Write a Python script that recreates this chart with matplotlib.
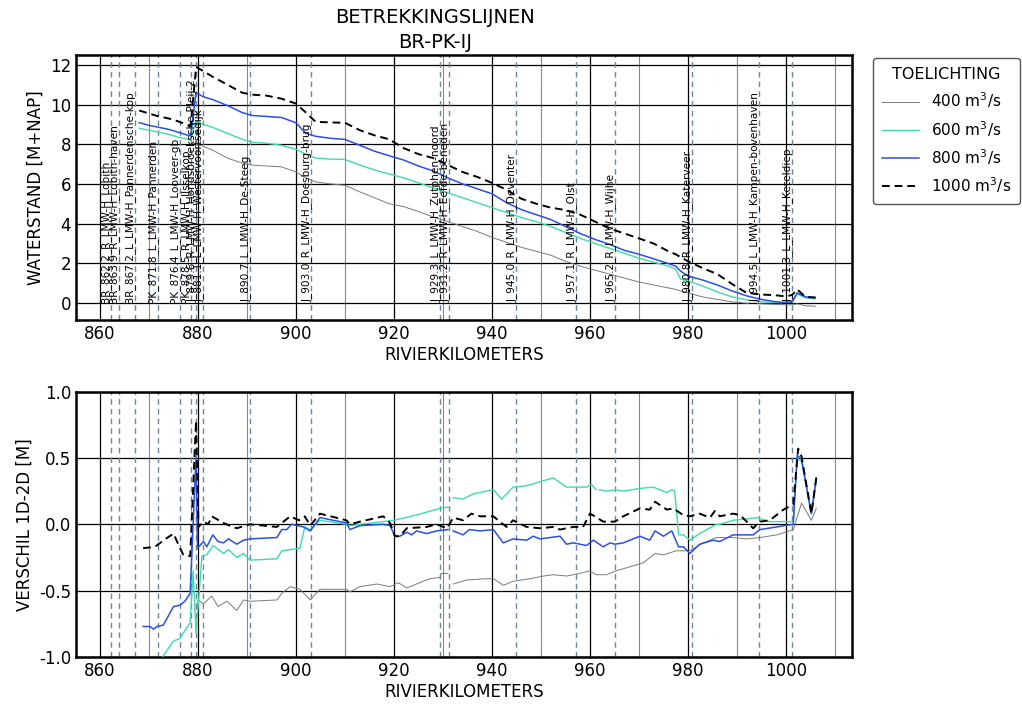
import numpy as np
import matplotlib
matplotlib.use("Agg")
import matplotlib.pyplot as plt

plt.rcParams['font.family'] = ['DejaVu Sans']

# ---- waterstand (bovenste grafiek) ----
km_top = [868, 870, 872, 874, 876, 878, 878.5, 879.6, 881, 883, 886, 889, 891, 894, 897,
          900, 902, 904, 907, 910, 913, 916, 919, 922, 925, 928, 931, 934, 937, 940,
          943, 946, 949, 952, 955, 958, 961, 964, 967, 970, 973, 976, 977.5, 978.5, 980,
          983, 986, 989, 992, 995, 998, 1000, 1001.3, 1002.3, 1004, 1006]
ws_1000 = [9.7, 9.55, 9.4, 9.3, 9.15, 8.95, 8.9, 11.9, 11.7, 11.4, 11.0, 10.6, 10.5, 10.45, 10.3,
           10.05, 9.6, 9.13, 9.1, 9.08, 8.71, 8.45, 8.25, 7.8, 7.5, 7.3, 6.95, 6.6, 6.35, 6.05,
           5.7, 5.25, 5.0, 4.8, 4.68, 4.45, 4.1, 3.75, 3.5, 3.25, 2.99, 2.6, 2.45, 2.3, 2.1,
           1.75, 1.45, 0.95, 0.5, 0.42, 0.38, 0.32, 0.4, 0.68, 0.3, 0.26]
ws_800 = [9.09, 8.95, 8.85, 8.75, 8.6, 8.45, 8.42, 10.6, 10.4, 10.25, 9.95, 9.6, 9.45, 9.4, 9.35,
          9.08, 8.55, 8.4, 8.3, 8.24, 7.95, 7.65, 7.42, 7.2, 6.9, 6.65, 6.3, 6.0, 5.75, 5.5,
          5.05, 4.7, 4.45, 4.2, 3.85, 3.5, 3.2, 2.95, 2.65, 2.45, 2.22, 1.98, 1.85, 1.6, 1.35,
          1.15, 0.9, 0.6, 0.35, 0.17, 0.05, 0.02, 0.05, 0.5, 0.3, 0.28]
ws_600 = [8.81, 8.7, 8.6, 8.5, 8.35, 8.25, 8.22, 9.2, 9.0, 8.85, 8.55, 8.25, 8.1, 8.05, 7.95,
          7.74, 7.5, 7.3, 7.25, 7.23, 6.95, 6.7, 6.5, 6.3, 6.05, 5.8, 5.55, 5.3, 5.05, 4.8,
          4.55, 4.3, 4.1, 3.85, 3.55, 3.25, 3.0, 2.75, 2.5, 2.25, 2.05, 1.85, 1.7, 1.2, 1.1,
          0.85, 0.55, 0.3, 0.15, 0.05, 0.02, 0.0, 0.05, 0.45, 0.25, 0.22]
ws_400 = [np.nan, np.nan, np.nan, np.nan, np.nan, np.nan, np.nan, 8.0, 7.9, 7.7, 7.3, 7.05, 6.95, 6.9, 6.86,
          6.6, 6.3, 6.1, 6.0, 5.93, 5.6, 5.3, 5.0, 4.85, 4.6, 4.33, 4.1, 3.85, 3.6, 3.3,
          3.05, 2.8, 2.6, 2.4, 2.1, 1.85, 1.65, 1.45, 1.25, 1.05, 0.9, 0.75, 0.68, 0.6, 0.5,
          0.3, 0.17, 0.05, -0.02, -0.05, -0.08, -0.1, -0.1, -0.05, -0.15, -0.17]

# ---- verschil 1D-2D (onderste grafiek) ----
km_d1000 = [868.8, 871.2, 873, 875, 876.2, 877, 878.4, 879.6, 880.1, 881.1, 882.1, 882.8, 885.2, 886.4,
            887.9, 890.6, 896.1, 898.8, 900.6, 901.8, 902.9, 904.9, 910.3, 911, 913.1, 917.8, 919.2,
            920.2, 921.2, 922.6, 926.7, 928.7, 930.8, 932.1, 934.1, 935.8, 937.6, 940.3, 941.6, 943,
            944.3, 947.1, 949.8, 952.5, 953.9, 955.2, 956.6, 958.6, 960, 961, 962.7, 965.1, 966.8,
            970.2, 972.2, 973.3, 975.7, 977, 979, 980.4, 982.4, 984.5, 985.5, 986.5, 989.2, 990.6,
            992, 993.3, 994.7, 996.7, 999.5, 1001.5, 1002.5, 1003.2, 1005.2, 1006.2]
d_1000 = [-0.18, -0.17, -0.12, -0.07, -0.17, -0.23, -0.24, 0.78, -0.02, 0.02, 0.0, 0.06, 0.01, -0.01,
          -0.03, 0.0, -0.02, 0.06, 0.03, 0.06, -0.01, 0.08, 0.03, 0.0, 0.02, 0.06, 0.01,
          -0.09, -0.09, -0.03, -0.02, 0.0, -0.03, 0.05, 0.03, 0.08, 0.06, 0.06, 0.02, -0.02,
          0.03, -0.02, -0.03, -0.02, -0.04, -0.03, -0.02, -0.02, 0.08, 0.06, 0.02, 0.02, 0.06,
          0.12, 0.11, 0.17, 0.11, 0.12, 0.07, 0.06, 0.08, 0.05, 0.1, 0.06, 0.08, 0.07,
          0.02, -0.03, 0.02, 0.03, 0.11, 0.15, 0.57, 0.51, 0.08, 0.35]

km_d800 = [868.8, 870.2, 870.9, 871.6, 872.9, 875, 876.3, 877.3, 878.4, 879.6, 879.9, 881.1, 881.8, 883,
           884.1, 885.2, 886.2, 887.9, 889.3, 890.6, 896.1, 897.1, 898.1, 899.1, 901.5, 902.9, 904.9,
           910.3, 911, 913.1, 917.8, 919.2, 920.2, 921.2, 922.6, 923.6, 924.6, 926.7, 928.7, 931,
           931.5, 932.1, 934.1, 935.4, 937.6, 940.3, 942.3, 944.3, 947.1, 948.4, 949.8, 953.9, 955.2,
           956.6, 959.3, 960.7, 962.7, 964.1, 965.1, 966.8, 970.2, 972.2, 973.3, 975, 976.7, 978.1,
           979.1, 980.4, 982.4, 985.2, 986.5, 989.2, 993.3, 994.7, 998.1, 1001.5, 1002.3, 1003.2,
           1005.2, 1006.2]
d_800 = [-0.77, -0.77, -0.79, -0.77, -0.76, -0.62, -0.61, -0.58, -0.52, 0.51, -0.18, -0.13, -0.17, -0.08,
         -0.13, -0.14, -0.11, -0.15, -0.12, -0.11, -0.1, -0.04, -0.04, 0.0, -0.02, -0.05, 0.05,
         0.01, -0.04, -0.01, 0.0, -0.01, -0.09, -0.09, -0.06, -0.08, -0.05, -0.07, -0.05, -0.04,
         np.nan, -0.05, -0.08, -0.04, -0.05, -0.04, -0.14, -0.11, -0.12, -0.09, -0.11, -0.09, -0.15,
         -0.14, -0.16, -0.12, -0.17, -0.14, -0.15, -0.14, -0.09, -0.12, -0.05, -0.09, -0.05, -0.17,
         -0.17, -0.22, -0.15, -0.12, -0.13, -0.08, -0.08, -0.04, -0.02, 0.0, 0.52, 0.49,
         0.08, 0.35]

km_d600 = [871, 872.9, 875, 876.3, 878.4, 879.0, 879.6, 880.8, 881.8, 883.1, 885.2, 886.2, 887.9,
           889.3, 890.6, 896.1, 897.1, 900.8, 901.8, 902.9, 904.9, 910.3, 911, 917.8, 919.9, 924.6,
           929.4, 931, 931.5, 932.1, 934.1, 936.2, 940.3, 942, 944.3, 947.1, 949.8, 952.5, 955.2,
           956.6, 959.3, 960.3, 961.3, 961.6, 962, 963.4, 965.4, 966.8, 970.2, 972.9, 975.7, 976.7,
           977.3, 978.1, 979.1, 980.4, 982.4, 985.8, 986.5, 989.2, 992, 994, 996.7, 1001.5, 1002.3,
           1003.2, 1005.2, 1006.2]
d_600 = [-1.15, -0.99, -0.88, -0.86, -0.74, -0.35, -0.82, -0.24, -0.23, -0.16, -0.22, -0.19, -0.25,
         -0.22, -0.27, -0.26, -0.2, -0.18, -0.02, -0.04, 0.03, 0.0, -0.01, 0.02, 0.03, 0.07,
         0.12, 0.13, np.nan, 0.2, 0.19, 0.23, 0.26, 0.19, 0.28, 0.29, 0.32, 0.35, 0.28,
         0.28, 0.28, 0.3, 0.26, np.nan, 0.26, 0.25, 0.26, 0.25, 0.27, 0.28, 0.24, 0.26,
         0.25, -0.08, -0.08, -0.12, -0.07, 0.0, 0.0, 0.03, 0.04, 0.05, 0.02, 0.02, 0.5,
         0.47, 0.08, 0.33]

km_d400 = [879.7, 880.1, 881.1, 882.8, 884.1, 885.9, 887.9, 889.3, 890.6, 896.1, 897.1, 898.8, 900.8,
           902.9, 904.9, 910.3, 911, 913, 916.5, 919.2, 920.9, 922.6, 924.6, 927.3, 929.4, 929.6,
           931, 931.5, 932.1, 934.8, 938.9, 940.3, 942.3, 944.3, 947.8, 950.5, 952.5, 955.2, 958,
           960, 961.3, 962, 963.4, 965.4, 968.2, 970.9, 973.3, 975, 977.6, 980.4, 983.1, 985.8,
           989.2, 992, 994.7, 998.1, 1001.5, 1003.2, 1005.2, 1006.2]
d_400 = [-0.64, -0.57, -0.6, -0.54, -0.62, -0.58, -0.65, -0.57, -0.58, -0.57, -0.52, -0.47, -0.49,
         -0.57, -0.49, -0.49, -0.51, -0.47, -0.45, -0.47, -0.44, -0.48, -0.45, -0.41, -0.4, -0.37,
         -0.37, np.nan, -0.45, -0.42, -0.41, -0.41, -0.46, -0.43, -0.41, -0.39, -0.38, -0.39, -0.37,
         -0.35, -0.38, -0.38, -0.38, -0.35, -0.32, -0.29, -0.22, -0.23, -0.2, -0.2, -0.14, -0.1,
         -0.1, -0.11, -0.1, -0.08, -0.04, 0.16, 0.03, 0.12]

# ---- meetlocaties ----
loc_km = [862.2, 863.9, 867.2, 871.8, 876.4, 878.5, 879.6, 881.1, 890.7, 903.0, 929.3, 931.2,
          945.0, 957.1, 965.2, 980.8, 994.5, 1001.3]
loc_names = ["BR_862.2_R_LMW-H_Lobith", "BR_863.9_R_LMW-H_Lobith-haven",
             "BR_867.2_L_LMW-H_Pannerdensche-kop", "PK_871.8_L_LMW-H_Pannerden",
             "PK_876.4_L_LMW-H_Looveer-gb", "PK_878.5_R_LMW-H_IJsselkop",
             "IJ_879.6_R_LMW-H_Hondsbroeksche-Pleij-2", "IJ_881.1_L_LMW-H_Westervoortsedijk",
             "IJ_890.7_L_LMW-H_De-Steeg", "IJ_903.0_R_LMW-H_Doesburg-brug",
             "IJ_929.3_L_LMW-H_Zutphen-noord", "IJ_931.2_R_LMW-H_Eefde-beneden",
             "IJ_945.0_R_LMW-H_Deventer", "IJ_957.1_R_LMW-H_Olst", "IJ_965.2_R_LMW-H_Wijhe",
             "IJ_980.8_R_LMW-H_Katerveer", "IJ_994.5_L_LMW-H_Kampen-bovenhaven",
             "IJ_1001.3_L_LMW-H_Keteldiep"]

labels = ["400 m$^3$/s", "600 m$^3$/s", "800 m$^3$/s", "1000 m$^3$/s"]
colors = ["#7a7a7a", "#3ddbb0", "#2b50e6", "black"]

fig = plt.figure(figsize=(10.22, 7.07), dpi=100)
ax1 = fig.add_axes([0.0744, 0.547, 0.7593, 0.3752])
ax2 = fig.add_axes([0.0744, 0.0707, 0.7593, 0.3755])

def style(ax):
    ax.set_xlim(855.1, 1013.5)
    ax.set_xticks(np.arange(860, 1001, 20))
    ax.set_xticks(np.arange(870, 1011, 20), minor=True)
    ax.grid(which='major', color='black', lw=0.9)
    ax.grid(which='minor', axis='x', color='#888888', lw=0.8)
    ax.tick_params(which='both', length=0, labelsize=12)
    for s in ax.spines.values():
        s.set_linewidth(1.8)
    ax.set_axisbelow(True)
    for k in loc_km:
        ax.axvline(k, color='#6d86a2', ls=(0, (4, 3)), lw=1.0, zorder=1)
    ax.set_xlabel("RIVIERKILOMETERS", fontsize=12, labelpad=2)

style(ax1)
ax1.set_ylim(-0.88, 12.5)
ax1.set_yticks(np.arange(0, 13, 2))
ax1.set_ylabel("WATERSTAND [M+NAP]", fontsize=12)
ax1.plot(km_top, ws_400, color=colors[0], lw=0.7, label=labels[0], zorder=3)
ax1.plot(km_top, ws_600, color=colors[1], lw=1.0, label=labels[1], zorder=3)
ax1.plot(km_top, ws_800, color=colors[2], lw=1.1, label=labels[2], zorder=3)
ax1.plot(km_top, ws_1000, color=colors[3], lw=1.4, ls=(0, (4, 2.5)), label=labels[3], zorder=3)
for k, name in zip(loc_km, loc_names):
    ax1.text(k, 0.0, name, rotation=90, ha='right', va='bottom', fontsize=7.6, zorder=4)

style(ax2)
ax2.set_ylim(-1, 1)
ax2.set_yticks([-1, -0.5, 0, 0.5, 1])
ax2.set_yticklabels(["-1.0", "-0.5", "0.0", "0.5", "1.0"])
ax2.set_ylabel("VERSCHIL 1D-2D [M]", fontsize=12)
ax2.plot(km_d400, d_400, color=colors[0], lw=0.7, zorder=3)
ax2.plot(km_d600, d_600, color=colors[1], lw=1.0, zorder=3)
ax2.plot(km_d800, d_800, color=colors[2], lw=1.1, zorder=3)
ax2.plot(km_d1000, d_1000, color=colors[3], lw=1.4, ls=(0, (4, 2.5)), zorder=3)

fig.text(0.426, 0.988, "BETREKKINGSLIJNEN\nBR-PK-IJ", ha='center', va='top', fontsize=14,
         linespacing=1.35)

leg = ax1.legend(loc='upper left', bbox_to_anchor=(0.851, 0.922), bbox_transform=fig.transFigure,
                 title="TOELICHTING", fontsize=11, title_fontsize=11.5, handlelength=2.4,
                 handletextpad=0.8, edgecolor='#555555', framealpha=1, borderpad=0.6,
                 borderaxespad=0.2, labelspacing=0.55)

fig.savefig("out.png", dpi=100)
